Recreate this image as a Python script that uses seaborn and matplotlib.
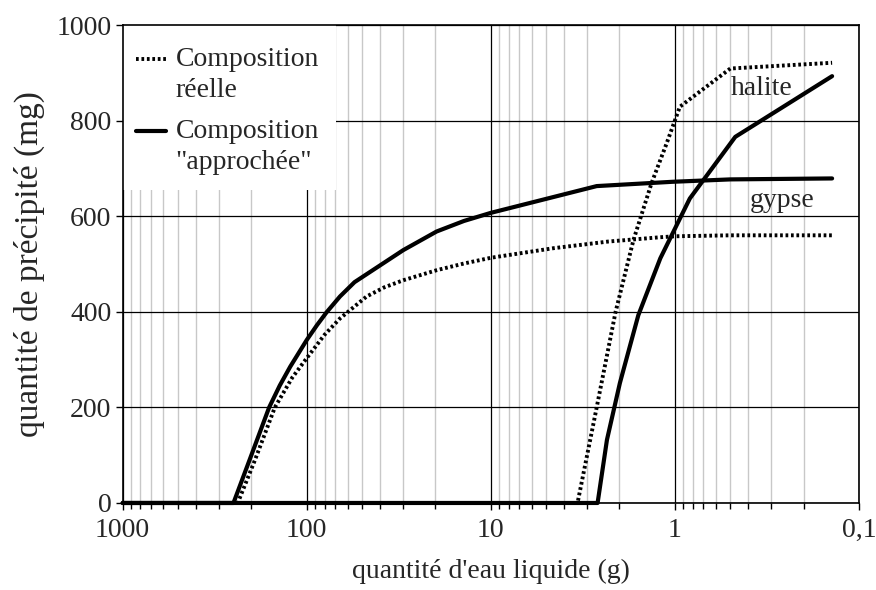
import numpy as np
import pandas as pd
import matplotlib
matplotlib.use("Agg")
import matplotlib.pyplot as plt
import matplotlib.ticker as mticker
from matplotlib.lines import Line2D
from matplotlib.patches import Rectangle
from matplotlib.legend_handler import HandlerLine2D
import seaborn as sns

# values
eau_gypse_reel = [1000, 237, 191, 149, 120, 100, 80, 66, 47.3, 38, 29.9, 19.7, 14, 10, 4.58, 2.3, 1.2, 1, 0.5, 0.14]
gypse_reel = [0, 0, 90, 200, 262, 303, 352, 386, 432, 451, 466, 487, 501, 513, 533, 547, 556, 558, 560, 560]

eau_gypse_appr = [1000, 250, 203.5, 160, 140, 123, 100, 88, 78, 66, 55, 40, 29.9, 19.7, 14, 10, 2.66, 1.03, 0.5, 0.14]
gypse_appr = [0, 0, 92, 200, 246, 285, 341, 372, 399, 432, 462, 497, 529, 568, 590, 607, 663, 672, 677, 679]

eau_halite_reel = [1000, 3.38, 2.66, 2.10, 1.68, 1.34, 1.11, 0.94, 0.50, 0.14]
halite_reel = [0, 0, 200, 400, 550, 669, 752, 829, 909, 921]

eau_halite_appr = [1000, 2.63, 2.34, 1.99, 1.58, 1.20, 0.83, 0.47, 0.14]
halite_appr = [0, 0, 132, 251, 393, 512, 637, 766, 893]

x_ticks = [1000, 100, 10, 1, 0.1]
x_labels = ["1000", "100", "10", "1", "0,1"]
y_ticks = [0, 200, 400, 600, 800, 1000]


class TopLine(HandlerLine2D):
    # put the legend line next to the first line of a two-line label
    def __init__(self, dy, **kw):
        super().__init__(**kw)
        self.dy = dy

    def create_artists(self, legend, orig_handle, xdescent, ydescent, width, height, fontsize, trans):
        return super().create_artists(legend, orig_handle, xdescent, ydescent - self.dy,
                                      width, height, fontsize, trans)


sns.set_style("white")
plt.rcParams['font.family'] = ['Liberation Serif', 'DejaVu Serif']
fs = 20

fig = plt.figure(figsize=(8.76, 5.90), dpi=100)
ax = fig.add_axes([0.140, 0.1475, 0.8406, 0.8101])
ax.set_xscale("log")

dotted = (0, (0.7, 0.7))
for xs, ys, ls, lab in [(eau_gypse_reel, gypse_reel, dotted, "Composition\nréelle"),
                        (eau_gypse_appr, gypse_appr, "-", "Composition\n\"approchée\""),
                        (eau_halite_reel, halite_reel, dotted, None),
                        (eau_halite_appr, halite_appr, "-", None)]:
    df = pd.DataFrame({"eau": xs, "precip": ys})
    sns.lineplot(data=df, x="eau", y="precip", ax=ax, color="black",
                 linewidth=3.0 if ls == "-" else 2.8, linestyle=ls, sort=False,
                 estimator=None, label=lab, clip_on=False, zorder=3)

ax.set_xlim(1000, 0.1)
ax.set_ylim(0, 1000)
ax.set_xticks(x_ticks)
ax.set_xticklabels(x_labels)
ax.xaxis.set_minor_locator(mticker.LogLocator(base=10, subs=np.arange(2, 10)))
ax.xaxis.set_minor_formatter(mticker.NullFormatter())
ax.set_yticks(y_ticks)

ax.grid(True, which="major", color="black", linewidth=0.9)
ax.grid(True, which="minor", axis="x", color="#c8c8c8", linewidth=1.0)
ax.set_axisbelow(True)

for s in ax.spines.values():
    s.set_color("black")
    s.set_linewidth(1.2)

ax.tick_params(axis="both", which="major", direction="out", length=5, width=1,
               color="black", labelsize=fs, pad=3)
ax.tick_params(axis="x", which="major", pad=6)
ax.tick_params(axis="x", which="minor", direction="out", length=4, width=1, color="black")
ax.tick_params(left=True, bottom=True, which="major")
ax.tick_params(bottom=True, which="minor")

ax.set_xlabel("quantité d'eau liquide (g)", fontsize=fs, labelpad=11)
ax.set_ylabel("quantité de précipité (mg)", fontsize=24, labelpad=8)

ax.text(0.338, 867, "halite", fontsize=fs, ha="center", va="center", zorder=4)
ax.text(0.26, 632, "gypse", fontsize=fs, ha="center", va="center", zorder=4)

# white block behind the legend, hiding the grid
ax.add_patch(Rectangle((0, 0.655), 0.29, 0.345, transform=ax.transAxes,
                       facecolor="white", edgecolor="none", zorder=1))

leg = ax.legend(loc="upper left", bbox_to_anchor=(0.018, 0.954), fontsize=fs,
                frameon=False, borderaxespad=0, borderpad=0,
                handlelength=1.1, handletextpad=0.33, labelspacing=0.6,
                handler_map={Line2D: TopLine(23)})
for t in leg.get_texts():
    t.set_linespacing(1.3)
    t.set_multialignment("left")

fig.savefig("out.png", dpi=100)
